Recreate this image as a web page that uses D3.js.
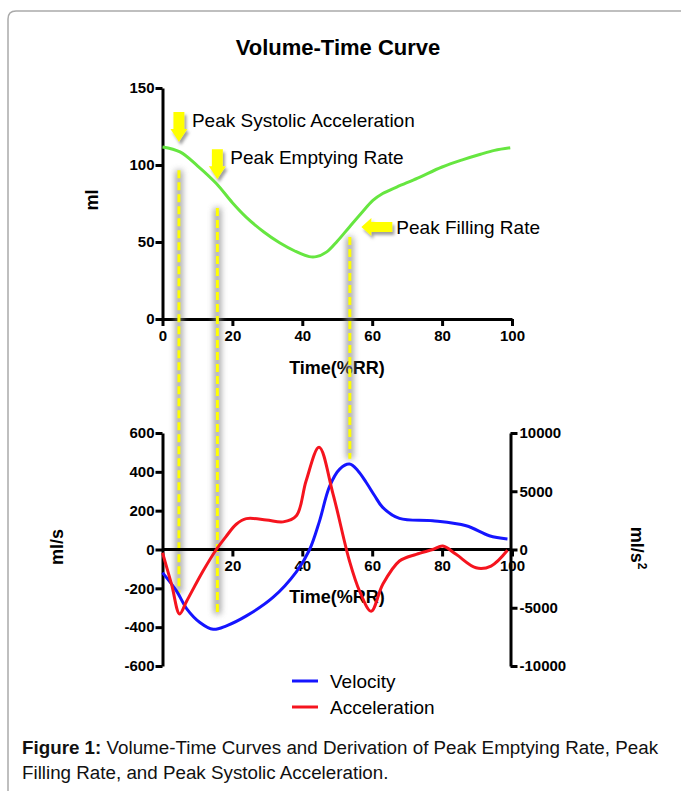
<!DOCTYPE html>
<html>
<head>
<meta charset="utf-8">
<script src="https://cdn.jsdelivr.net/npm/d3@7"></script>
<style>
  body { margin: 0; background: #fff; }
  text { font-family: "Liberation Sans", Arial, sans-serif; }
</style>
</head>
<body>
<svg id="chart" width="681" height="791"></svg>
<script>
// volume curve (ml)
var volTime = [0, 5, 10, 15.4, 20, 24, 29, 33.5, 38, 42, 44, 47, 50, 53.5, 57, 60.2, 63, 67, 73, 80, 86, 91, 95, 99.5];
var volMl   = [111.7, 108.5, 99.5, 88, 75.5, 66, 56.5, 49.5, 44, 40.5, 40.5, 43.6, 50.5, 59.8, 69, 77, 81.5, 85.7, 91.5, 98.7, 103.5, 107, 109.5, 111.2];

// velocity (ml/s)
var velTime = [0, 4, 7, 10.7, 14.5, 18.3, 24, 31.6, 38.3, 42.1, 44.9, 47.8, 50.7, 53.5, 55.9, 58.3, 60.7, 63, 67.8, 77.3, 86.9, 93.5, 98.7];
var velMls  = [-119, -213, -307, -376, -411, -393, -342, -247, -115, 0, 145, 325, 414, 440, 406, 345, 277, 217, 160, 148, 122, 71, 54];

// acceleration (ml/s^2)
var accTime = [0, 2.6, 4.9, 6.9, 11.6, 15.4, 18.3, 21.1, 24, 29.7, 34.5, 38.3, 41.1, 44.8, 48.8, 53.5, 56.4, 59.7, 63, 67.8, 72.6, 77.3, 80.2, 84, 89.7, 94, 98.7];
var accMls2 = [-276, -3000, -5530, -4440, -1850, 0, 1160, 2170, 2650, 2540, 2370, 2890, 5900, 8780, 4760, -990, -3580, -5300, -3000, -990, -414, 0, 300, -414, -1570, -1420, -70];

// markers: time, top end (ml), bottom end (ml/s)
var markerTime   = [4.7, 15.7, 53.6];
var markerTop    = [96.6, 72, 53.3];
var markerBottom = [-223, -332, 468];

// arrows: tip position (time, ml) and label
var arrowTime  = [4.7, 15.7, 56.9];
var arrowMl    = [114.9, 90.7, 59.8];
var arrowDir   = ["down", "down", "left"];
var arrowLabel = ["Peak Systolic Acceleration", "Peak Emptying Rate", "Peak Filling Rate"];

var xTicksTop = [0, 20, 40, 60, 80, 100];
var yTicksTop = [0, 50, 100, 150];
var xTicksBot = [20, 40, 60, 80, 100];
var yTicksVel = [-600, -400, -200, 0, 200, 400, 600];
var yTicksAcc = [-10000, -5000, 0, 5000, 10000];

var svg = d3.select("#chart");

var green = "#66e640", blue = "#1515ff", red = "#f5141e";

var defs = svg.append("defs");
defs.append("filter").attr("id", "blur")
    .attr("filterUnits", "userSpaceOnUse")
    .attr("x", 0).attr("y", 0).attr("width", 681).attr("height", 791)
    .append("feGaussianBlur").attr("stdDeviation", 3);
defs.append("filter").attr("id", "shadow").attr("x", "-50%").attr("y", "-50%").attr("width", "200%").attr("height", "200%")
    .append("feDropShadow").attr("dx", 2).attr("dy", 3).attr("stdDeviation", 1.8)
    .attr("flood-color", "#777").attr("flood-opacity", 0.7);

// frame
svg.append("path")
    .attr("d", "M8,791 L8,19 Q8,11 16,11 L681,11")
    .attr("fill", "none").attr("stroke", "#aaa").attr("stroke-width", 1.5);

// Scales
var x = d3.scaleLinear().domain([0, 100]).range([162.5, 512]);
var yVol = d3.scaleLinear().domain([0, 150]).range([319, 88]);
var yVel = d3.scaleLinear().domain([-600, 600]).range([666, 433]);
var yAcc = d3.scaleLinear().domain([-10000, 10000]).range([666, 433]);

var plain = function(d) { return String(d); };

// Title
svg.append("text")
    .attr("x", 338).attr("y", 55)
    .style("text-anchor", "middle").style("font-weight", "bold").style("font-size", "22px")
    .text("Volume-Time Curve");

function styleAxis(g) {
    g.selectAll("path").attr("stroke", "#000").attr("stroke-width", 3);
    g.selectAll("line").attr("stroke", "#000").attr("stroke-width", 3);
    g.selectAll("text").style("font-weight", "bold").style("font-size", "15px")
        .style("font-family", "'Liberation Sans', Arial, sans-serif").attr("fill", "#000");
}

// top chart axes
var xAxisTop = svg.append("g")
    .attr("transform", "translate(0," + yVol(0) + ")")
    .call(d3.axisBottom(x).tickValues(xTicksTop).tickFormat(plain).tickSize(7).tickSizeOuter(0).tickPadding(4));
styleAxis(xAxisTop);
var yAxisTop = svg.append("g")
    .attr("transform", "translate(" + x(0) + ",0)")
    .call(d3.axisLeft(yVol).tickValues(yTicksTop).tickFormat(plain).tickSize(7).tickSizeOuter(0).tickPadding(1));
styleAxis(yAxisTop);

svg.append("text")
    .attr("x", 337).attr("y", 374)
    .style("text-anchor", "middle").style("font-weight", "bold").style("font-size", "18px")
    .text("Time(%RR)");
svg.append("text")
    .attr("transform", "translate(98,200) rotate(-90)")
    .style("text-anchor", "middle").style("font-weight", "bold").style("font-size", "18px")
    .text("ml");

// marker lines (shadow + yellow dash)
var markers = svg.append("g");
markerTime.forEach(function(t, i) {
    var yT = yVol(markerTop[i]), yB = yVel(markerBottom[i]);
    markers.append("line")
        .attr("x1", x(t)).attr("x2", x(t)).attr("y1", yT).attr("y2", yB)
        .attr("stroke", "#8a8a8a").attr("stroke-width", 7).attr("opacity", 0.8)
        .attr("filter", "url(#blur)");
    markers.append("line")
        .attr("x1", x(t)).attr("x2", x(t)).attr("y1", yT).attr("y2", yB)
        .attr("stroke", "#ffff00").attr("stroke-width", 3).attr("stroke-dasharray", "8,4");
});

// volume curve
svg.append("path")
    .datum(volTime.map(function(t, i) { return [t, volMl[i]]; }))
    .attr("fill", "none").attr("stroke", green).attr("stroke-width", 3)
    .attr("d", d3.line().x(function(d) { return x(d[0]); }).y(function(d) { return yVol(d[1]); })
        .curve(d3.curveCatmullRom.alpha(0.5)));

// arrows + labels
arrowTime.forEach(function(t, i) {
    var tx = x(t), ty = yVol(arrowMl[i]);
    var p;
    if (arrowDir[i] === "down") {
        p = [[tx - 5.5, ty - 30], [tx + 5.5, ty - 30], [tx + 5.5, ty - 13], [tx + 8.5, ty - 13],
             [tx, ty], [tx - 8.5, ty - 13], [tx - 5.5, ty - 13]];
    } else {
        p = [[tx, ty], [tx + 10, ty - 9], [tx + 10, ty - 5], [tx + 31, ty - 5],
             [tx + 31, ty + 5], [tx + 10, ty + 5], [tx + 10, ty + 9]];
    }
    svg.append("path")
        .attr("d", "M" + p.join("L") + "Z")
        .attr("fill", "#ffff00").attr("filter", "url(#shadow)");
    svg.append("text")
        .attr("x", arrowDir[i] === "down" ? tx + 13 : tx + 35)
        .attr("y", arrowDir[i] === "down" ? ty - 15 : ty + 7)
        .style("font-size", "19px")
        .text(arrowLabel[i]);
});

// bottom chart axes
var xAxisBot = svg.append("g")
    .attr("transform", "translate(0," + yVel(0) + ")")
    .call(d3.axisBottom(x).tickValues(xTicksBot).tickFormat(plain).tickSize(7).tickSizeOuter(0).tickPadding(4));
styleAxis(xAxisBot);
xAxisBot.select(".domain").attr("d", "M" + x(0) + ",0H" + x(100));

var yAxisVel = svg.append("g")
    .attr("transform", "translate(" + x(0) + ",0)")
    .call(d3.axisLeft(yVel).tickValues(yTicksVel).tickFormat(plain).tickSize(7).tickSizeOuter(0).tickPadding(1));
styleAxis(yAxisVel);
var yAxisAcc = svg.append("g")
    .attr("transform", "translate(" + (x(100) - 1.5) + ",0)")
    .call(d3.axisRight(yAcc).tickValues(yTicksAcc).tickFormat(plain).tickSize(7).tickSizeOuter(0).tickPadding(2));
styleAxis(yAxisAcc);

svg.append("text")
    .attr("x", 337).attr("y", 603)
    .style("text-anchor", "middle").style("font-weight", "bold").style("font-size", "18px")
    .text("Time(%RR)");
svg.append("text")
    .attr("transform", "translate(63,547) rotate(-90)")
    .style("text-anchor", "middle").style("font-weight", "bold").style("font-size", "18px")
    .text("ml/s");
var accTitle = svg.append("text")
    .attr("transform", "translate(631,548) rotate(90)")
    .style("text-anchor", "middle").style("font-weight", "bold").style("font-size", "18px");
accTitle.append("tspan").text("ml/s");
accTitle.append("tspan").attr("dy", -7).style("font-size", "12px").text("2");

// velocity + acceleration
svg.append("path")
    .datum(velTime.map(function(t, i) { return [t, velMls[i]]; }))
    .attr("fill", "none").attr("stroke", blue).attr("stroke-width", 3)
    .attr("d", d3.line().x(function(d) { return x(d[0]); }).y(function(d) { return yVel(d[1]); })
        .curve(d3.curveCatmullRom.alpha(0.5)));
svg.append("path")
    .datum(accTime.map(function(t, i) { return [t, accMls2[i]]; }))
    .attr("fill", "none").attr("stroke", red).attr("stroke-width", 3)
    .attr("d", d3.line().x(function(d) { return x(d[0]); }).y(function(d) { return yAcc(d[1]); })
        .curve(d3.curveCatmullRom.alpha(0.5)));

// legend
var legendNames = ["Velocity", "Acceleration"];
var legendColors = [blue, red];
legendNames.forEach(function(n, i) {
    var ly = 681 + i * 26;
    svg.append("line").attr("x1", 292).attr("x2", 318).attr("y1", ly).attr("y2", ly)
        .attr("stroke", legendColors[i]).attr("stroke-width", 3);
    svg.append("text").attr("x", 330).attr("y", ly + 7).style("font-size", "19px").text(n);
});

// caption
var cap1 = svg.append("text").attr("x", 22).attr("y", 754).style("font-size", "18.8px").attr("fill", "#111");
cap1.append("tspan").style("font-weight", "bold").text("Figure 1:");
cap1.append("tspan").text(" Volume-Time Curves and Derivation of Peak Emptying Rate, Peak");
svg.append("text").attr("x", 22).attr("y", 779).style("font-size", "18.8px").attr("fill", "#111")
    .text("Filling Rate, and Peak Systolic Acceleration.");
</script>
</body>
</html>
